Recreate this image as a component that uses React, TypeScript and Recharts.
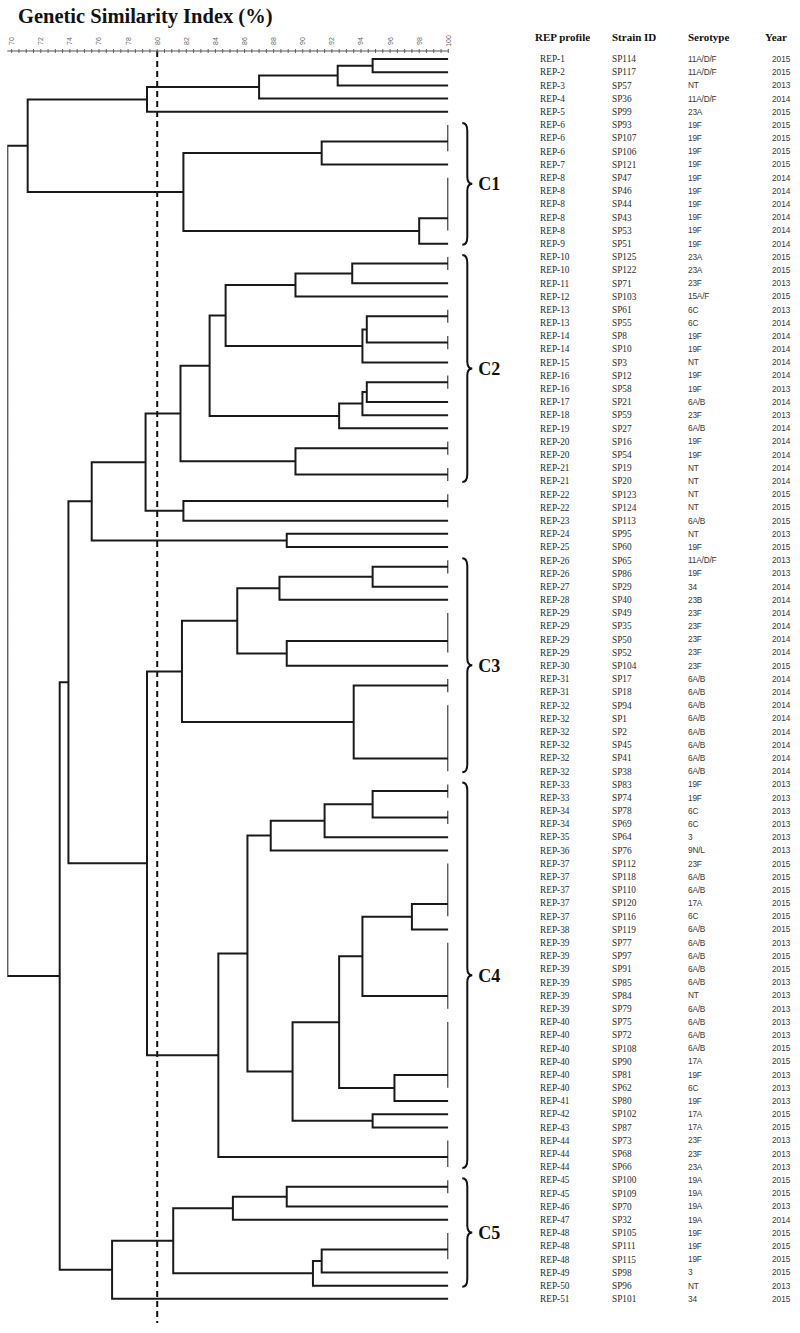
import React from 'react';
import { LineChart, Line, XAxis, YAxis, ReferenceLine, ReferenceArea } from 'recharts';

// ---------- table columns (one entry per strain, top to bottom) ----------
const REP = [
  'REP-1','REP-2','REP-3','REP-4','REP-5','REP-6','REP-6','REP-6','REP-7','REP-8',
  'REP-8','REP-8','REP-8','REP-8','REP-9','REP-10','REP-10','REP-11','REP-12','REP-13',
  'REP-13','REP-14','REP-14','REP-15','REP-16','REP-16','REP-17','REP-18','REP-19','REP-20',
  'REP-20','REP-21','REP-21','REP-22','REP-22','REP-23','REP-24','REP-25','REP-26','REP-26',
  'REP-27','REP-28','REP-29','REP-29','REP-29','REP-29','REP-30','REP-31','REP-31','REP-32',
  'REP-32','REP-32','REP-32','REP-32','REP-32','REP-33','REP-33','REP-34','REP-34','REP-35',
  'REP-36','REP-37','REP-37','REP-37','REP-37','REP-37','REP-38','REP-39','REP-39','REP-39',
  'REP-39','REP-39','REP-39','REP-40','REP-40','REP-40','REP-40','REP-40','REP-40','REP-41',
  'REP-42','REP-43','REP-44','REP-44','REP-44','REP-45','REP-45','REP-46','REP-47','REP-48',
  'REP-48','REP-48','REP-49','REP-50','REP-51',
];
const STRAIN = [
  'SP114','SP117','SP57','SP36','SP99','SP93','SP107','SP106','SP121','SP47',
  'SP46','SP44','SP43','SP53','SP51','SP125','SP122','SP71','SP103','SP61',
  'SP55','SP8','SP10','SP3','SP12','SP58','SP21','SP59','SP27','SP16',
  'SP54','SP19','SP20','SP123','SP124','SP113','SP95','SP60','SP65','SP86',
  'SP29','SP40','SP49','SP35','SP50','SP52','SP104','SP17','SP18','SP94',
  'SP1','SP2','SP45','SP41','SP38','SP83','SP74','SP78','SP69','SP64',
  'SP76','SP112','SP118','SP110','SP120','SP116','SP119','SP77','SP97','SP91',
  'SP85','SP84','SP79','SP75','SP72','SP108','SP90','SP81','SP62','SP80',
  'SP102','SP87','SP73','SP68','SP66','SP100','SP109','SP70','SP32','SP105',
  'SP111','SP115','SP98','SP96','SP101',
];
const SEROTYPE = [
  '11A/D/F','11A/D/F','NT','11A/D/F','23A','19F','19F','19F','19F','19F',
  '19F','19F','19F','19F','19F','23A','23A','23F','15A/F','6C',
  '6C','19F','19F','NT','19F','19F','6A/B','23F','6A/B','19F',
  '19F','NT','NT','NT','NT','6A/B','NT','19F','11A/D/F','19F',
  '34','23B','23F','23F','23F','23F','23F','6A/B','6A/B','6A/B',
  '6A/B','6A/B','6A/B','6A/B','6A/B','19F','19F','6C','6C','3',
  '9N/L','23F','6A/B','6A/B','17A','6C','6A/B','6A/B','6A/B','6A/B',
  '6A/B','NT','6A/B','6A/B','6A/B','6A/B','17A','19F','6C','19F',
  '17A','17A','23F','23F','23A','19A','19A','19A','19A','19F',
  '19F','19F','3','NT','34',
];
const YEAR = [
  '2015','2015','2013','2014','2015','2015','2015','2015','2015','2014',
  '2014','2014','2014','2014','2014','2015','2015','2013','2015','2013',
  '2014','2014','2014','2014','2014','2013','2014','2013','2014','2014',
  '2014','2014','2014','2015','2015','2015','2013','2015','2013','2013',
  '2014','2014','2014','2014','2014','2014','2015','2014','2014','2014',
  '2014','2014','2014','2014','2014','2013','2013','2013','2013','2013',
  '2013','2015','2015','2015','2015','2015','2015','2013','2015','2015',
  '2013','2013','2013','2013','2013','2015','2015','2013','2013','2013',
  '2015','2015','2013','2013','2013','2015','2015','2013','2014','2015',
  '2015','2015','2015','2013','2015',
];
const HEADERS = ['REP profile', 'Strain ID', 'Serotype', 'Year'];
const AXIS_LABELS = [70, 72, 74, 76, 78, 80, 82, 84, 86, 88, 90, 92, 94, 96, 98, 100];
const CUTOFF = 80;

// ---------- clusters ----------
const CLUSTER_NAMES = ['C1', 'C2', 'C3', 'C4', 'C5'];
const CLUSTER_FIRST = [6, 16, 39, 56, 86];
const CLUSTER_LAST = [15, 33, 55, 85, 94];

// ---------- dendrogram (similarity %, children = row numbers or sub-nodes) ----------
type Node = number | { h: number; kids: Node[] };
const n = (h: number, ...kids: Node[]): Node => ({ h, kids });
const same = (...rows: number[]): Node =>
  rows.slice(1).reduce<Node>((acc, r) => n(100, acc, r), rows[0]);

const TREE: Node = n(69.7,
  n(71.1,
    n(79.3, n(87.0, n(92.4, n(94.8, 1, 2), 3), 4), 5),
    n(81.8,
      n(91.3, same(6, 7, 8), 9),
      n(98.0, same(10, 11, 12, 13, 14), 15))),
  n(73.3,
    n(73.9,
      n(75.5,
        n(79.2,
          n(81.6,
            n(83.6,
              n(84.7,
                n(89.5, n(93.4, same(16, 17), 18), 19),
                n(94.1, n(94.4, same(20, 21), same(22, 23)), 24)),
              n(92.5, n(94.1, n(94.4, same(25, 26), 27), 28), 29)),
            n(89.5, same(30, 31), same(32, 33))),
          n(81.8, same(34, 35), 36)),
        n(88.9, 37, 38)),
      n(79.3,
        n(81.7,
          n(85.5,
            n(88.4, n(94.8, same(39, 40), 41), 42),
            n(88.9, same(43, 44, 45, 46), 47)),
          n(93.5, same(48, 49), same(50, 51, 52, 53, 54, 55))),
        n(84.2,
          n(86.2,
            n(87.8, n(91.5, n(94.8, same(56, 57), same(58, 59)), 60), 61),
            n(89.3,
              n(92.5,
                n(94.1,
                  n(97.5, same(62, 63, 64, 65, 66), 67),
                  same(68, 69, 70, 71, 72, 73)),
                n(96.3, same(74, 75, 76, 77, 78, 79), 80)),
              n(94.8, 81, 82))),
          same(83, 84, 85)))),
    n(76.9,
      n(81.1,
        n(85.2, n(88.9, same(86, 87), 88), 89),
        n(90.7, n(91.3, same(90, 91, 92), 93), 94)),
      95)));

type Pt = { s: number; row: number | null };
function build(node: Node, out: Pt[]): { h: number; y: number } {
  if (typeof node === 'number') return { h: 100, y: node };
  const ks = node.kids.map((k) => build(k, out));
  const a = ks[0];
  const b = ks[ks.length - 1];
  out.push(
    { s: a.h, row: a.y },
    { s: node.h, row: a.y },
    { s: node.h, row: b.y },
    { s: b.h, row: b.y },
    { s: b.h, row: null },
  );
  return { h: node.h, y: (a.y + b.y) / 2 };
}
const LINE_DATA: Pt[] = [];
build(TREE, LINE_DATA);

const ROWS = REP.map((_, i) => i + 1);
const AXIS_TICKS: number[] = [];
for (let v = 70; v <= 100; v += 0.5) AXIS_TICKS.push(v);

const AxisTick = (props: any) => {
  const { x, y, payload } = props;
  const v = payload.value;
  const labelled = AXIS_LABELS.includes(v);
  return (
    <g>
      <line x1={x} x2={x} y1={y - 2} y2={y + 2} stroke="#555" strokeWidth={0.9} />
      {labelled && (
        <text
          transform={`translate(${x},${y - 10}) rotate(-90)`}
          textAnchor="middle"
          dominantBaseline="central"
          fontSize={7}
          fontFamily="Liberation Sans, Arial, sans-serif"
          fill="#666"
        >
          {v}
        </text>
      )}
    </g>
  );
};

const TableTick = (props: any) => {
  const { y, payload } = props;
  const i = payload.value - 1;
  const serif = 'Liberation Serif, Times New Roman, serif';
  const sans = 'Liberation Sans, Arial, sans-serif';
  return (
    <g>
      <text x={540} y={y} dy="0.35em" fontSize={9.3} fontFamily={serif} fill="#2a2a2a">{REP[i]}</text>
      <text x={612} y={y} dy="0.35em" fontSize={9.3} fontFamily={serif} fill="#2a2a2a">{STRAIN[i]}</text>
      <text x={688} y={y} dy="0.35em" fontSize={8.3} fontFamily={sans} fill="#3a3a3a" letterSpacing={-0.2}>{SEROTYPE[i]}</text>
      <text x={772} y={y} dy="0.35em" fontSize={8.3} fontFamily={sans} fill="#3a3a3a">{YEAR[i]}</text>
    </g>
  );
};

const Brace = (props: any) => {
  const { x, y, width, height, label } = props;
  const x0 = x + width + 14;
  const y0 = y - 2;
  const y1 = y + height + 1;
  const mid = (y0 + y1) / 2;
  const d = `M ${x0} ${y0} Q ${x0 + 5} ${y0} ${x0 + 5} ${y0 + 8} L ${x0 + 5} ${mid - 7} Q ${x0 + 5} ${mid} ${x0 + 10} ${mid} Q ${x0 + 5} ${mid} ${x0 + 5} ${mid + 7} L ${x0 + 5} ${y1 - 8} Q ${x0 + 5} ${y1} ${x0} ${y1}`;
  return (
    <g>
      <path d={d} fill="none" stroke="#111" strokeWidth={2} />
      <text
        x={x0 + 16}
        y={mid}
        dy="0.35em"
        fontSize={18}
        fontWeight="bold"
        fontFamily="Liberation Serif, Times New Roman, serif"
        fill="#111"
      >
        {label}
      </text>
    </g>
  );
};

const HEADER_X = [535, 612, 688, 765];

export default function App() {
  return (
    <div style={{ position: 'absolute', left: 0, top: 0, width: 800, height: 1333, background: '#fff' }}>
      <LineChart
        width={800}
        height={1333}
        data={LINE_DATA}
        margin={{ top: 31, right: 11.7, bottom: 10, left: 7.3 }}
      >
        <XAxis
          dataKey="s"
          type="number"
          orientation="top"
          domain={[69.7, 100]}
          allowDataOverflow
          ticks={AXIS_TICKS}
          interval={0}
          height={20}
          tickSize={0}
          tickMargin={0}
          tickLine={false}
          axisLine={{ stroke: '#555', strokeWidth: 1 }}
          tick={AxisTick}
        />
        <YAxis
          yAxisId={0}
          type="number"
          orientation="right"
          width={340}
          domain={[0.39, 96.83]}
          allowDataOverflow
          reversed
          ticks={ROWS}
          interval={0}
          axisLine={false}
          tickLine={false}
          tick={TableTick}
        />
        <ReferenceLine
          x={CUTOFF}
          stroke="#111"
          strokeWidth={2}
          strokeDasharray="6 4"
        />
        {CLUSTER_NAMES.map((c, i) => (
          <ReferenceArea
            key={c}
            x1={99.9}
            x2={100}
            y1={CLUSTER_FIRST[i]}
            y2={CLUSTER_LAST[i]}
            shape={(p: any) => <Brace {...p} label={c} />}
          />
        ))}
        <Line
          dataKey="row"
          type="linear"
          stroke="#1a1a1a"
          strokeWidth={2}
          dot={false}
          activeDot={false}
          connectNulls={false}
          isAnimationActive={false}
        />
      </LineChart>
      <svg
        width={800}
        height={50}
        style={{ position: 'absolute', left: 0, top: 0, pointerEvents: 'none' }}
      >
        <text
          x={18}
          y={23}
          fontSize={20.5}
          fontWeight="bold"
          fontFamily="Liberation Serif, Times New Roman, serif"
          fill="#111"
        >
          Genetic Similarity Index (%)
        </text>
        {HEADERS.map((h, i) => (
          <text
            key={h}
            x={HEADER_X[i]}
            y={41}
            fontSize={11}
            fontWeight="bold"
            fontFamily="Liberation Serif, Times New Roman, serif"
            fill="#111"
          >
            {h}
          </text>
        ))}
      </svg>
    </div>
  );
}
